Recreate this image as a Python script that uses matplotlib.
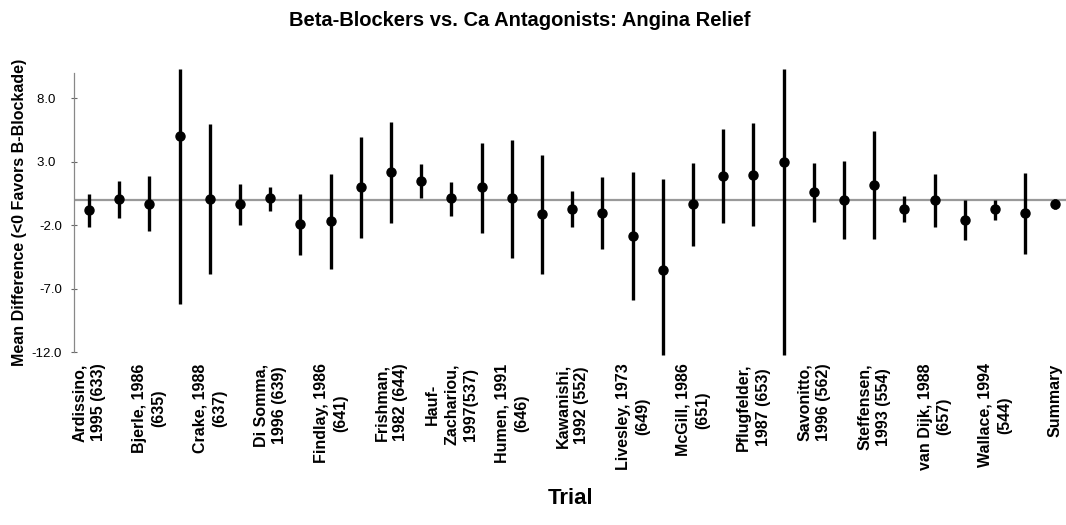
import matplotlib
matplotlib.use("Agg")
import matplotlib.pyplot as plt

plt.rcParams["font.family"] = ["Liberation Sans", "DejaVu Sans"]

# labelled trials sit on every other position; unlabelled ones get ""
labels = [
    "Ardissino,\n1995 (633)", "", "Bjerle, 1986\n(635)", "", "Crake, 1988\n(637)", "",
    "Di Somma,\n1996 (639)", "", "Findlay, 1986\n(641)", "", "Frishman,\n1982 (644)", "",
    "Hauf-\nZachariou,\n1997(537)", "", "Humen, 1991\n(646)", "", "Kawanishi,\n1992 (552)", "",
    "Livesley, 1973\n(649)", "", "McGill, 1986\n(651)", "", "Pflugfelder,\n1987 (653)", "",
    "Savonitto,\n1996 (562)", "", "Steffensen,\n1993 (554)", "", "van Dijk, 1988\n(657)", "",
    "Wallace, 1994\n(544)", "", "Summary",
]
mean = [-0.77, 0.07, -0.30, 5.00, 0.09, -0.35, 0.12, -1.93, -1.67, 1.01, 2.22, 1.51,
        0.12, 1.01, 0.12, -1.09, -0.70, -1.01, -2.85, -5.50, -0.30, 1.88, 1.98, 2.98,
        0.59, 0.01, 1.17, -0.70, -0.01, -1.61, -0.75, -1.06, -0.30]
lower = [-2.14, -1.40, -2.45, -8.23, -5.81, -2.00, -0.88, -4.37, -5.42, -2.98, -1.80, 0.17,
         -1.27, -2.58, -4.61, -5.81, -2.17, -3.87, -7.86, -12.2, -3.61, -1.85, -2.09, -12.2,
         -1.77, -3.11, -3.11, -1.74, -2.14, -3.19, -1.56, -4.24, -0.72]
upper = [0.49, 1.48, 1.85, 10.3, 6.00, 1.22, 1.01, 0.49, 2.06, 4.95, 6.16, 2.80,
         1.43, 4.50, 4.74, 3.56, 0.72, 1.82, 2.19, 1.61, 2.93, 5.58, 6.05, 10.3,
         2.87, 3.08, 5.42, 0.28, 2.06, -0.04, 0.02, 2.11, 0.04]
yticks = [8.0, 3.0, -2.0, -7.0, -12.0]

x = list(range(1, len(mean) + 1))

fig = plt.figure(figsize=(10.66, 5.25), dpi=100)
ax = fig.add_axes([0.0694, 0.329, 0.9306, 0.532])

ax.axhline(0, color="#999999", linewidth=1.6, zorder=1)
ax.vlines(x, lower, upper, color="black", linewidth=2.4, zorder=2, clip_on=False)
ax.plot(x, mean, "o", color="black", markersize=6.5, zorder=3)

ax.set_xlim(0.5, 33.35)
ax.set_ylim(-12.0, 10.0)
ax.set_yticks(yticks)
# the original leaves positive labels sitting a little further left
ax.set_yticklabels([f"{v:.1f}" + ("  " if v > 0 else "") for v in yticks], fontsize=9.5)
ax.tick_params(axis="y", direction="inout", length=5, width=0.8, pad=6, color="#666666")

ax.set_xticks(x)
ax.set_xticklabels(labels, rotation=90, fontsize=11.5, fontweight="bold",
                   va="top", ha="center", multialignment="center", linespacing=1.35)
ax.tick_params(axis="x", length=0, pad=8)

for side in ("top", "right", "bottom"):
    ax.spines[side].set_visible(False)
ax.spines["left"].set_color("#888888")
ax.spines["left"].set_linewidth(0.9)

ax.set_ylabel("Mean Difference (<0 Favors B-Blockade)", fontsize=11.5, fontweight="bold")
ax.yaxis.set_label_coords(-0.047, 0.5)

fig.text(0.488, 0.96, "Beta-Blockers vs. Ca Antagonists: Angina Relief",
         ha="center", va="center", fontsize=14.5, fontweight="bold")
fig.text(0.535, 0.05, "Trial", ha="center", va="center", fontsize=16, fontweight="bold")

fig.savefig("out.png", dpi=100)
